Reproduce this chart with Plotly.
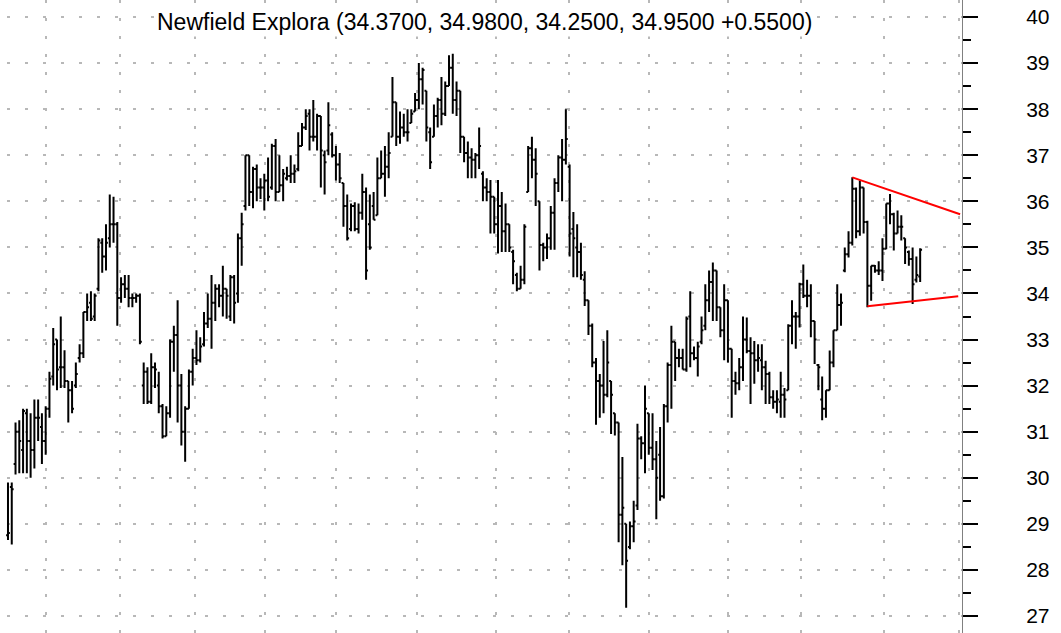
import plotly.graph_objects as go

ticker = "Newfield Explora"

opens = [28.75, 29.8, 30.3, 31.0, 30.6, 31.4, 30.8, 30.6, 31.3, 31.1,
         30.8, 31.5, 32.2, 33.0, 32.4, 32.4, 32.1, 31.9, 32.0, 32.6,
         32.7, 33.6, 33.8, 33.5, 34.1, 35.1, 34.8, 35.2, 35.5, 35.5,
         33.9, 34.2, 34.1, 33.9, 33.9, 33.95, 32.0, 32.3, 31.65, 32.4,
         32.0, 31.55, 30.9, 31.4, 32.95, 33.1, 32.0, 31.0, 31.5, 32.3,
         32.6, 32.55, 32.9, 33.35, 33.45, 33.8, 34.1, 33.95, 34.1, 33.5,
         34.35, 34.0, 35.2, 35.9, 37.0, 36.2, 36.7, 36.3, 36.3, 36.45,
         36.3, 37.2, 36.2, 36.35, 36.5, 36.55, 36.6, 36.7, 37.2, 37.6,
         37.9, 37.4, 37.4, 37.85, 37.0, 37.1, 37.45, 37.0, 36.8, 36.4,
         35.9, 35.4, 35.9, 35.4, 35.75, 36.2, 35.5, 35.9, 35.7, 36.5,
         36.6, 36.75, 37.4, 38.15, 37.4, 37.6, 37.5, 37.7, 37.95, 38.2,
         38.65, 38.4, 37.5, 37.4, 37.85, 38.2, 37.9, 38.5, 38.9, 38.2,
         38.4, 37.4, 37.05, 36.95, 36.9, 37.0, 36.6, 36.3, 36.2, 36.1,
         35.5, 35.9, 35.35, 35.5, 34.9, 34.4, 34.1, 34.3, 36.2, 37.15,
         36.9, 36.0, 35.05, 35.0, 35.2, 35.75, 36.4, 36.95, 36.9, 36.75,
         35.4, 35.0, 34.9, 34.3, 33.85, 33.3, 32.5, 32.1, 32.0, 31.8,
         32.1, 31.4, 31.2, 29.2, 29.0, 28.5, 28.95, 29.4, 30.85, 30.75,
         31.4, 30.65, 30.4, 30.5, 29.6, 31.55, 32.45, 32.95, 32.6, 32.6,
         32.35, 33.5, 32.7, 32.6, 32.95, 33.3, 33.85, 34.25, 34.5, 33.7,
         33.2, 33.85, 32.8, 32.1, 32.05, 32.4, 33.0, 32.75, 32.7, 32.55,
         32.55, 32.4, 32.25, 31.75, 31.65, 31.65, 31.8, 31.9, 33.3, 33.5,
         33.5, 34.2, 33.95, 33.95, 33.4, 32.45, 31.7, 31.5, 31.9, 32.5,
         33.2, 33.75, 34.5, 34.85, 35.1, 36.27, 35.35, 36.3, 35.55, 34.17,
         34.6, 34.5, 34.5, 34.97, 35.95, 35.72, 35.3, 35.45, 35.2, 34.9,
         34.75, 34.3, 34.37]
highs = [29.9, 29.9, 31.2, 31.25, 31.5, 31.5, 31.4, 31.7, 31.7, 31.4,
         31.55, 32.3, 33.25, 33.0, 33.5, 32.77, 32.1, 32.1, 32.5, 32.9,
         33.6, 34.0, 34.05, 34.0, 35.2, 35.2, 35.5, 36.15, 36.1, 35.55,
         34.35, 34.4, 34.4, 34.0, 34.0, 34.0, 32.5, 32.4, 32.7, 32.5,
         32.3, 31.6, 31.55, 33.0, 33.3, 33.85, 32.25, 31.55, 32.35, 32.8,
         33.2, 33.05, 33.6, 34.0, 34.4, 34.2, 34.2, 34.6, 34.1, 34.4,
         34.4, 35.3, 35.75, 37.0, 37.0, 36.75, 36.8, 36.5, 36.6, 36.95,
         37.25, 37.35, 37.0, 36.7, 36.75, 37.0, 36.8, 37.5, 37.7, 38.0,
         38.0, 38.2, 37.9, 37.85, 37.1, 38.15, 37.5, 37.2, 37.05, 36.4,
         36.15, 35.95, 35.98, 35.95, 36.6, 36.3, 36.15, 36.2, 36.95, 37.1,
         37.2, 37.5, 38.7, 38.15, 37.95, 37.9, 38.0, 38.0, 38.35, 39.0,
         38.9, 38.4, 37.6, 38.1, 38.25, 38.7, 38.6, 39.17, 39.2, 38.6,
         38.4, 37.4, 37.3, 37.15, 37.05, 37.6, 36.65, 36.5, 36.46, 36.1,
         36.46, 36.2, 35.95, 35.5, 34.95, 34.45, 34.6, 35.5, 37.2, 37.4,
         37.15, 36.0, 35.1, 35.3, 35.9, 36.5, 37.0, 37.35, 38.0, 36.8,
         35.77, 35.5, 35.1, 34.48, 33.85, 33.35, 32.6, 32.25, 32.97, 33.2,
         32.1, 31.4, 31.2, 30.45, 29.0, 29.05, 29.5, 31.17, 30.9, 32.0,
         31.4, 31.4, 30.8, 31.1, 31.6, 32.5, 33.3, 32.95, 32.8, 32.8,
         33.5, 34.05, 32.85, 32.95, 33.5, 34.2, 34.5, 34.67, 34.5, 33.7,
         34.2, 33.85, 32.8, 32.3, 32.6, 33.5, 33.48, 33.05, 32.97, 32.9,
         32.9, 32.54, 32.3, 31.9, 31.9, 32.3, 31.95, 33.33, 33.85, 33.6,
         34.23, 34.63, 34.3, 34.2, 33.4, 32.47, 32.2, 31.9, 32.76, 33.2,
         34.2, 34.0, 35.0, 35.35, 36.52, 36.3, 36.45, 36.3, 35.58, 34.6,
         34.62, 34.7, 35.2, 35.95, 36.16, 35.75, 35.8, 35.7, 35.2, 34.93,
         35.0, 34.8, 34.98]
lows = [28.65, 28.55, 30.07, 30.1, 30.1, 30.1, 30.0, 30.2, 30.8, 30.3,
        30.5, 31.3, 32.0, 31.9, 31.95, 31.95, 31.2, 31.4, 31.95, 32.5,
        32.6, 33.4, 33.4, 33.4, 34.05, 34.45, 34.5, 35.0, 35.1, 33.3,
        33.8, 33.9, 33.7, 33.7, 33.8, 32.9, 31.6, 31.6, 31.6, 31.95,
        31.4, 30.85, 30.9, 31.3, 32.3, 31.2, 30.7, 30.35, 31.5, 32.0,
        32.45, 32.5, 32.85, 33.25, 32.8, 33.4, 33.7, 33.5, 33.45, 33.4,
        33.35, 33.8, 34.6, 35.8, 35.9, 35.85, 36.0, 36.05, 35.8, 36.0,
        36.25, 36.0, 36.2, 36.0, 36.45, 36.4, 36.4, 36.65, 37.2, 37.55,
        37.1, 37.3, 37.1, 36.3, 36.15, 37.0, 36.95, 36.45, 36.4, 35.45,
        35.15, 35.35, 35.35, 35.3, 35.6, 34.3, 34.95, 35.6, 35.7, 36.5,
        36.1, 36.5, 37.4, 37.2, 37.25, 37.4, 37.3, 37.7, 37.95, 38.0,
        38.1, 37.3, 36.7, 37.4, 37.6, 37.65, 37.85, 38.5, 37.9, 37.85,
        37.05, 36.85, 36.5, 36.5, 36.5, 36.7, 36.0, 36.0, 35.3, 35.3,
        34.87, 34.9, 34.9, 34.9, 34.2, 34.05, 34.1, 34.2, 36.2, 36.5,
        35.9, 34.5, 34.7, 34.75, 34.95, 34.95, 36.2, 36.0, 36.8, 34.8,
        34.35, 34.35, 34.3, 33.73, 33.1, 32.4, 31.15, 31.3, 31.4, 31.75,
        30.95, 30.92, 28.6, 28.1, 27.18, 28.45, 28.6, 29.3, 30.4, 30.1,
        30.5, 30.17, 29.1, 29.5, 29.55, 31.2, 31.5, 32.1, 32.4, 32.35,
        32.3, 32.4, 32.55, 32.2, 32.9, 33.2, 33.6, 33.4, 33.4, 33.05,
        32.55, 32.5, 31.3, 31.8, 31.9, 32.1, 32.7, 31.6, 32.04, 32.3,
        31.9, 31.6, 31.6, 31.5, 31.4, 31.3, 31.3, 31.9, 32.9, 32.8,
        33.26, 33.9, 33.7, 33.05, 32.47, 31.9, 31.25, 31.3, 31.9, 32.4,
        33.2, 33.3, 34.46, 34.78, 35.04, 35.2, 35.25, 35.3, 33.7, 33.84,
        34.45, 34.4, 34.27, 34.96, 35.5, 34.93, 35.3, 35.15, 34.64, 34.6,
        33.77, 34.24, 34.25]
closes = [28.8, 29.75, 31.0, 30.8, 31.45, 30.8, 30.6, 31.3, 31.3, 30.8,
          31.5, 32.15, 32.9, 32.35, 32.4, 32.1, 31.9, 31.5, 32.25, 32.7,
          33.6, 33.7, 33.45, 33.95, 35.15, 34.8, 35.1, 35.5, 35.5, 33.9,
          34.2, 34.1, 33.9, 33.9, 33.95, 32.95, 32.3, 31.65, 32.4, 32.35,
          31.55, 30.9, 31.4, 32.95, 33.1, 32.0, 31.0, 31.5, 32.3, 32.6,
          32.55, 32.85, 33.35, 33.45, 33.8, 34.1, 33.95, 34.1, 33.95, 34.35,
          33.8, 35.2, 35.5, 37.0, 36.2, 36.7, 36.3, 36.3, 36.45, 36.1,
          37.2, 36.2, 36.35, 36.6, 36.55, 36.6, 36.65, 37.2, 37.6, 37.85,
          37.4, 37.4, 37.85, 37.1, 36.85, 37.65, 37.0, 36.8, 36.5, 35.9,
          35.2, 35.9, 35.4, 35.75, 36.2, 34.5, 35.0, 35.6, 36.5, 36.6,
          36.75, 37.05, 38.15, 37.4, 37.6, 37.5, 37.5, 37.9, 38.2, 38.65,
          38.85, 37.6, 36.85, 37.85, 38.2, 37.9, 38.5, 38.9, 38.2, 38.4,
          37.4, 37.05, 36.95, 36.9, 37.0, 37.2, 36.3, 36.2, 36.1, 35.5,
          35.9, 35.35, 35.5, 35.0, 34.7, 34.1, 34.3, 35.45, 37.15, 36.9,
          36.6, 35.05, 35.0, 35.2, 35.75, 36.4, 36.95, 36.9, 37.35, 35.3,
          35.2, 34.9, 34.4, 33.85, 33.3, 32.5, 32.1, 32.0, 31.8, 32.5,
          31.8, 31.2, 29.2, 29.35, 28.2, 28.95, 29.05, 30.85, 30.75, 31.5,
          30.65, 30.4, 30.0, 29.6, 31.55, 32.45, 32.95, 32.6, 32.6, 32.35,
          33.45, 32.7, 32.6, 32.85, 33.2, 33.85, 34.25, 34.5, 33.7, 33.2,
          33.85, 32.8, 32.1, 32.05, 32.4, 33.0, 32.75, 32.7, 32.55, 32.6,
          32.4, 32.25, 31.75, 31.65, 31.7, 31.8, 31.7, 33.3, 33.5, 33.5,
          34.2, 33.95, 33.95, 33.4, 33.0, 32.4, 31.5, 31.9, 32.5, 33.2,
          33.75, 33.8, 34.85, 35.1, 36.27, 35.35, 36.3, 35.55, 34.17, 34.6,
          34.5, 34.5, 34.97, 35.95, 35.72, 35.3, 35.45, 35.45, 35.0, 34.75,
          34.2, 34.4, 34.95]

# trading-day index of each month boundary (vertical grid)
month_breaks = [10.1, 29.7, 49.6, 68.2, 87.0, 108.5, 129.5, 148.8, 170.1, 191.0, 210.4, 232.4, 252.3]
price_ticks = list(range(27, 41))

# triangle trendlines (bar index, price)
upper_x = [224, 252.6]
upper_y = [36.52, 35.72]
lower_x = [228, 252.1]
lower_y = [33.72, 33.94]

n = len(closes)
assert len(opens) == n and len(highs) == n and len(lows) == n, (len(opens), len(highs), len(lows), n)
days = list(range(n))
highs = [max(h, o, c) for h, o, c in zip(highs, opens, closes)]
lows = [min(l, o, c) for l, o, c in zip(lows, opens, closes)]

fig = go.Figure()
fig.add_trace(go.Ohlc(
    x=days, open=opens, high=highs, low=lows, close=closes,
    increasing=dict(line=dict(color="black", width=2)),
    decreasing=dict(line=dict(color="black", width=2)),
    tickwidth=0.5, showlegend=False, hoverinfo="skip",
))
fig.add_trace(go.Scatter(x=upper_x, y=upper_y, mode="lines",
                         line=dict(color="#ff0000", width=2), showlegend=False, hoverinfo="skip"))
fig.add_trace(go.Scatter(x=lower_x, y=lower_y, mode="lines",
                         line=dict(color="#ff0000", width=2), showlegend=False, hoverinfo="skip"))

chg = closes[-1] - closes[-2]
title = f"{ticker} ({opens[-1]:.4f}, {highs[-1]:.4f}, {lows[-1]:.4f}, {closes[-1]:.4f} {chg:+.4f})"

fig.add_annotation(text=title, xref="paper", yref="paper", x=0.504, y=1 - 22 / 633,
                   xanchor="center", yanchor="middle", showarrow=False,
                   font=dict(family="Liberation Sans, Arial", size=23, color="black"),
                   bgcolor="white", borderpad=1)

grid_col = "#b8b8b8"
fig.update_layout(
    width=1061, height=633,
    margin=dict(l=0, r=99, t=0, b=0),
    paper_bgcolor="white", plot_bgcolor="white",
    font=dict(family="Liberation Sans, Arial", color="black"),
    xaxis=dict(
        range=[-2.12, 253.1], rangeslider=dict(visible=False),
        tickmode="array", tickvals=month_breaks, showticklabels=False, ticks="",
        showgrid=True, gridcolor=grid_col, gridwidth=1.5, griddash="3px,15px",
        zeroline=False, showline=False, fixedrange=True,
    ),
    yaxis=dict(
        range=[26.631, 40.369], side="right",
        tickmode="array", tickvals=price_ticks, ticktext=[str(v) for v in price_ticks],
        ticks="outside", ticklen=15, tickwidth=2, tickcolor="black",
        tickfont=dict(family="Liberation Sans, Arial", size=21, color="black"),
        ticklabelstandoff=44,
        minor=dict(tickmode="array", tickvals=[v + 0.5 for v in price_ticks[:-1]] + [26.5],
                   ticks="outside", ticklen=8, tickwidth=2, tickcolor="black", showgrid=False),
        showgrid=True, gridcolor=grid_col, gridwidth=1.5, griddash="0px,7px,3px,8px",
        showline=True, linecolor="#808080", linewidth=1, mirror=False,
        zeroline=False, fixedrange=True,
    ),
)

fig.write_html("out.html", config={"displayModeBar": False},
               post_script="document.body.style.margin='0px';")
